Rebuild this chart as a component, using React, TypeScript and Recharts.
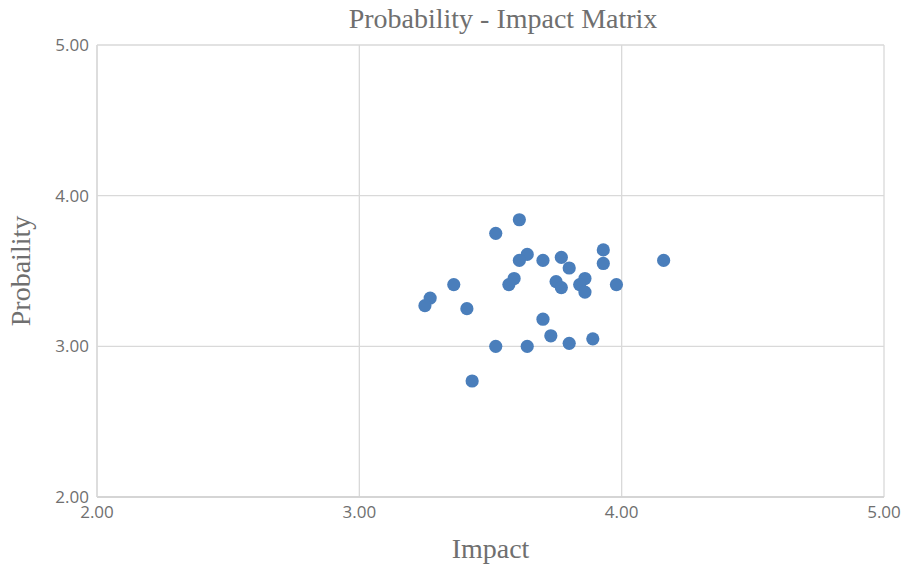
import React from 'react';
import {
  ScatterChart,
  Scatter,
  XAxis,
  YAxis,
  CartesianGrid,
  Label,
} from 'recharts';

// Impact / probability pairs
const impact = [
  3.61, 3.52, 3.64, 3.61, 3.7, 3.77, 3.8, 3.93, 3.93, 4.16,
  3.59, 3.57, 3.75, 3.77, 3.86, 3.84, 3.86, 3.98, 3.36, 3.27,
  3.25, 3.41, 3.7, 3.73, 3.89, 3.8, 3.52, 3.64, 3.43,
];
const probability = [
  3.84, 3.75, 3.61, 3.57, 3.57, 3.59, 3.52, 3.64, 3.55, 3.57,
  3.45, 3.41, 3.43, 3.39, 3.45, 3.41, 3.36, 3.41, 3.41, 3.32,
  3.27, 3.25, 3.18, 3.07, 3.05, 3.02, 3.0, 3.0, 2.77,
];
const ticks = [2, 3, 4, 5];

const data = impact.map((x, i) => ({ x, y: probability[i] }));

const grey = '#6f6f6f';
const serif = '"Liberation Serif", "Times New Roman", serif';
const sans = '"Open Sans", "Noto Sans", sans-serif';

const Dot = (props: any) => {
  const { cx, cy } = props;
  return <circle cx={cx} cy={cy} r={6.6} fill="#4a7ebb" />;
};

export default function App() {
  return (
    <div style={{ position: 'absolute', left: 0, top: 0, background: '#fff' }}>
      <div style={{ position: 'relative', width: 905, height: 564 }}>
        <div
          style={{
            position: 'absolute',
            top: 2,
            left: 0,
            width: 1006,
            textAlign: 'center',
            fontFamily: serif,
            fontSize: 28,
            lineHeight: '34px',
            color: grey,
            zIndex: 1,
          }}
        >
          Probability - Impact Matrix
        </div>
        <ScatterChart
          width={905}
          height={564}
          margin={{ top: 45, right: 21, bottom: 0, left: 0 }}
        >
          <CartesianGrid stroke="#d9d9d9" strokeWidth={1.3} />
          <XAxis
            type="number"
            dataKey="x"
            domain={[2, 5]}
            ticks={ticks}
            tickFormatter={(v: number) => v.toFixed(2)}
            height={67}
            axisLine={{ stroke: '#d0d0d0', strokeWidth: 1.5 }}
            tickLine={false}
            tickMargin={3}
            tick={{ fill: grey, fontSize: 17, fontFamily: sans }}
          >
            <Label
              value="Impact"
              position="insideBottom"
              offset={6}
              style={{ fill: grey, fontSize: 28, fontFamily: serif }}
            />
          </XAxis>
          <YAxis
            type="number"
            dataKey="y"
            domain={[2, 5]}
            ticks={ticks}
            tickFormatter={(v: number) => v.toFixed(2)}
            width={97}
            axisLine={{ stroke: '#d9d9d9', strokeWidth: 1.3 }}
            tickLine={false}
            tick={{ fill: grey, fontSize: 17, fontFamily: sans }}
          >
            <Label
              value="Probaility"
              angle={-90}
              position="insideLeft"
              offset={20}
              style={{ fill: grey, fontSize: 28, fontFamily: serif, textAnchor: 'middle' }}
            />
          </YAxis>
          <Scatter data={data} shape={Dot} isAnimationActive={false} />
        </ScatterChart>
      </div>
    </div>
  );
}
